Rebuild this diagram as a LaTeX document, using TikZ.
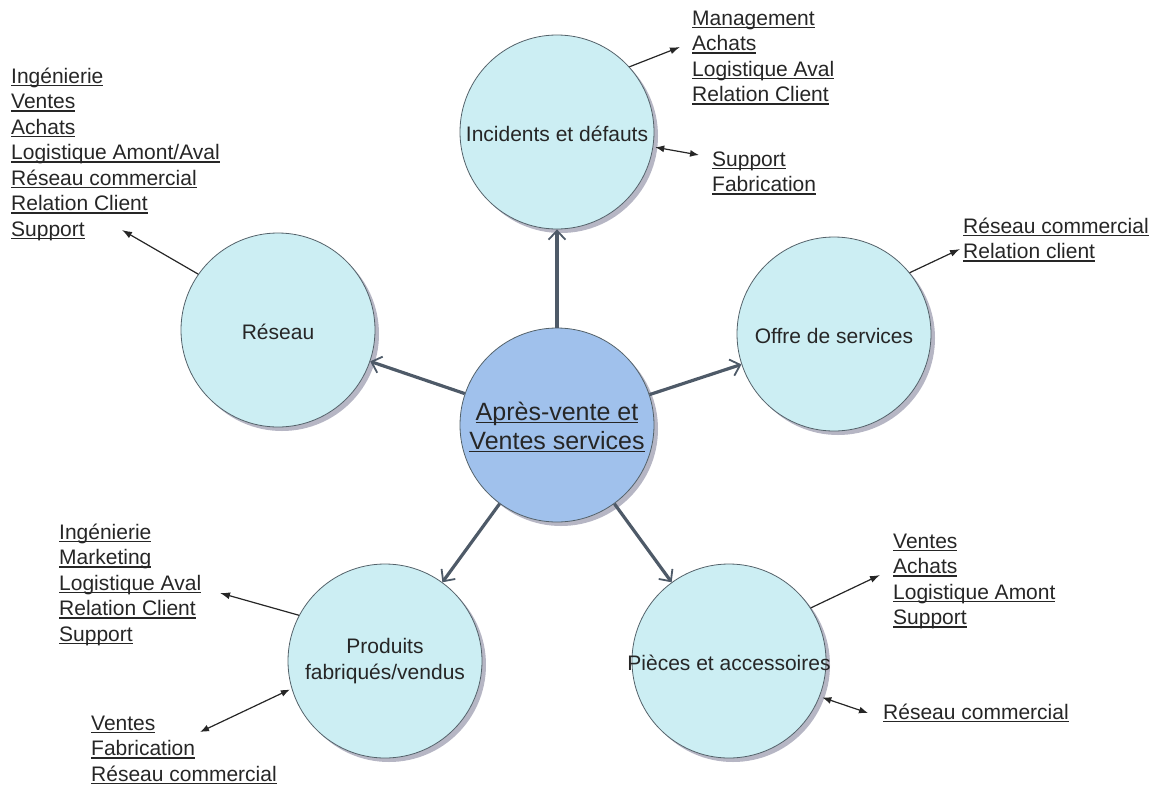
\documentclass[tikz,border=0pt]{standalone}
\usepackage{fontspec}
\setmainfont{Liberation Sans}
\usetikzlibrary{arrows.meta,shadows}
\definecolor{satfill}{RGB}{204,238,243}
\definecolor{cenfill}{RGB}{160,193,236}
\definecolor{edgecol}{RGB}{84,98,106}
\definecolor{spokecol}{RGB}{78,90,104}
\definecolor{txt}{RGB}{38,38,38}
\definecolor{shadowcol}{RGB}{182,182,196}
\newsavebox\ulbox
\newcommand\ulin[1]{\sbox\ulbox{#1}\rlap{\rule[-2.8pt]{\wd\ulbox}{1.1pt}}\usebox\ulbox\strut}
\begin{document}
\begin{tikzpicture}[x=1pt,y=-1pt,
  bubble/.style={circle,draw=edgecol,line width=0.8pt,fill=satfill,minimum size=194pt,inner sep=0pt,
     drop shadow={shadow xshift=4pt,shadow yshift=-4pt,fill=shadowcol,opacity=1}},
  centerbubble/.style={bubble,fill=cenfill},
  ctext/.style={font=\fontsize{21}{25.5}\selectfont,text=txt,align=center,inner sep=0pt},
  list/.style={font=\fontsize{21}{25.5}\selectfont,text=txt,align=left,inner sep=0pt,anchor=north west},
  spoke/.style={draw=spokecol,line width=3.2pt,-{Straight Barb[length=9pt,width=17pt,line width=1.8pt]}},
  link/.style={draw=black!85,line width=1.2pt,-{Latex[length=10pt,width=7pt]}},
  dlink/.style={draw=black!85,line width=1.2pt,{Latex[length=9pt,width=7pt]}-{Latex[length=9pt,width=7pt]}}
]
\useasboundingbox (0,0) rectangle (1165,785);

% circles
\node[centerbubble] (cen) at (557,425) {};
\node[bubble] (inc) at (557,132) {};
\node[bubble] (res) at (278,330) {};
\node[bubble] (off) at (834,334) {};
\node[bubble] (pro) at (385,661) {};
\node[bubble] (pie) at (729,661) {};

% circle texts
\node[ctext,font=\fontsize{25}{29}\selectfont,yshift=-4pt] (cen-t) at (cen) {\ulin{Après-vente et}\\\ulin{Ventes services}};
\node[ctext,yshift=-2pt] (inc-t) at (inc) {Incidents et défauts};
\node[ctext,yshift=-2pt] (res-t) at (res) {Réseau};
\node[ctext,yshift=-2pt] (off-t) at (off) {Offre de services};
\node[ctext] (pro-t) at (pro) {Produits\\fabriqués/vendus};
\node[ctext,yshift=-2pt] (pie-t) at (pie) {Pièces et accessoires};

% spokes
\draw[spoke] (cen) -- (inc);
\draw[spoke] (cen) -- (res);
\draw[spoke] (cen) -- (off);
\draw[spoke] (cen) -- (pro);
\draw[spoke] (cen) -- (pie);

% lists
\node[list] (l1) at (692,7.15) {\ulin{Management}\\\ulin{Achats}\\\ulin{Logistique Aval}\\\ulin{Relation Client}};
\node[list] (l2) at (712,148.15) {\ulin{Support}\\\ulin{Fabrication}};
\node[list] (l3) at (11,65.15) {\ulin{Ingénierie}\\\ulin{Ventes}\\\ulin{Achats}\\\ulin{Logistique Amont/Aval}\\\ulin{Réseau commercial}\\\ulin{Relation Client}\\\ulin{Support}};
\node[list] (l4) at (963,215.15) {\ulin{Réseau commercial}\\\ulin{Relation client}};
\node[list] (l5) at (59,521.15) {\ulin{Ingénierie}\\\ulin{Marketing}\\\ulin{Logistique Aval}\\\ulin{Relation Client}\\\ulin{Support}};
\node[list] (l6) at (91,712.15) {\ulin{Ventes}\\\ulin{Fabrication}\\\ulin{Réseau commercial}};
\node[list] (l7) at (893,530.15) {\ulin{Ventes}\\\ulin{Achats}\\\ulin{Logistique Amont}\\\ulin{Support}};
\node[list] (l8) at (883,701.15) {\ulin{Réseau commercial}};

% arrow end points
\coordinate (t1) at (680,47);
\coordinate (t2) at (699,155);
\coordinate (t3) at (122,230);
\coordinate (t4) at (960,249);
\coordinate (t5) at (220,593);
\coordinate (t6) at (200,732);
\coordinate (t7) at (880,575);
\coordinate (t8) at (868,713);

\draw[link] (inc.42) -- (t1);
\draw[dlink] ([xshift=2pt]inc.-9) -- (t2);
\draw[link] (res.145) -- (t3);
\draw[link] (off.39) -- (t4);
\draw[link] (pro.152) -- (t5);
\draw[dlink] ([xshift=-2pt]pro.197) -- (t6);
\draw[link] (pie.33) -- (t7);
\draw[dlink] ([xshift=3pt]pie.-22) -- (t8);
\end{tikzpicture}
\end{document}
